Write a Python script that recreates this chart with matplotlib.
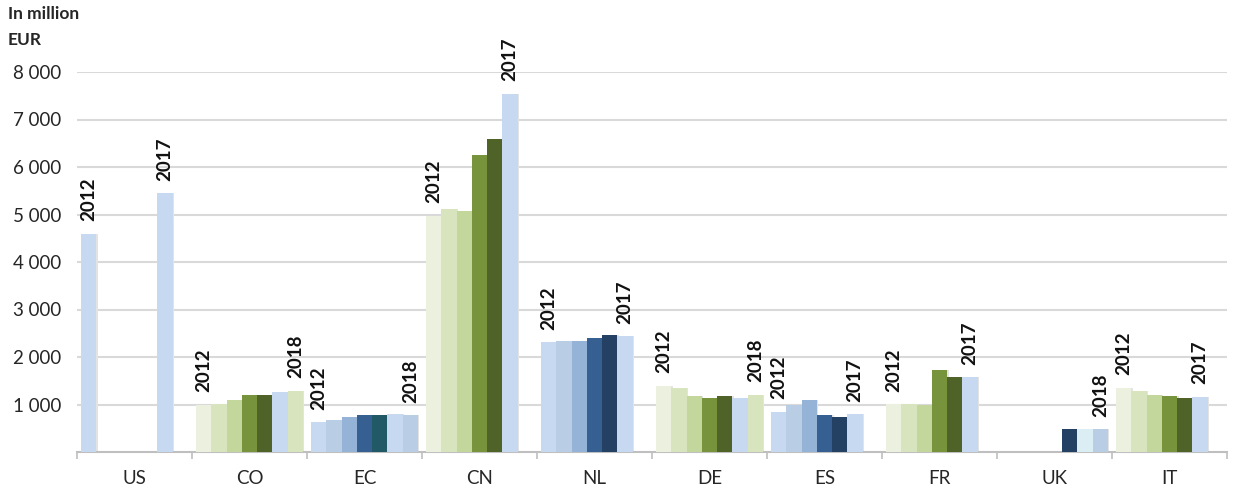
import numpy as np
import matplotlib.pyplot as plt

plt.rcParams['font.family'] = ['Lato', 'DejaVu Sans']

# data (million EUR), years 2012..2018, nan = no bar
years = [2012, 2013, 2014, 2015, 2016, 2017, 2018]
countries = ['US', 'CO', 'EC', 'CN', 'NL', 'DE', 'ES', 'FR', 'UK', 'IT']
nan = np.nan
us = [4600, nan, nan, nan, nan, 5450, nan]
co = [1000, 1010, 1100, 1210, 1210, 1260, 1290]
ec = [630, 670, 740, 780, 780, 810, 770]
cn = [4970, 5120, 5070, 6250, 6600, 7540, nan]
nl = [2310, 2340, 2340, 2410, 2460, 2440, nan]
de = [1390, 1350, 1170, 1140, 1170, 1130, 1210]
es = [850, 1000, 1100, 770, 740, 800, nan]
fr = [1010, 1010, 1000, 1730, 1570, 1570, nan]
uk = [nan, nan, nan, nan, 480, 480, 480]
it = [1350, 1280, 1210, 1180, 1130, 1160, nan]
values = [us, co, ec, cn, nl, de, es, fr, uk, it]

# years written above bars
year_labels = [[2012, 2017], [2012, 2018], [2012, 2018], [2012, 2017], [2012, 2017],
               [2012, 2018], [2012, 2017], [2012, 2017], [2018], [2012, 2017]]

# colours
g = ['#ebf1de', '#d7e4bd', '#c3d69b', '#77933c', '#4f6228', '#c6d9f1', '#d7e4bd']
b = ['#c6d9f1', '#b9cde5', '#95b3d7', '#366092', '#244062', '#c6d9f1', '#b9cde5']
colors = {
    'US': ['#c6d9f1'] * 7,
    'CO': g,
    'EC': ['#c6d9f1', '#b9cde5', '#95b3d7', '#366092', '#215967', '#c6d9f1', '#b9cde5'],
    'CN': g,
    'NL': b,
    'DE': g,
    'ES': b,
    'FR': g,
    'UK': ['#c6d9f1', '#b9cde5', '#95b3d7', '#366092', '#244062', '#dbeef4', '#b9cde5'],
    'IT': g,
}

fig = plt.figure(figsize=(12.36, 4.93), dpi=100)
ax = fig.add_axes([77 / 1236, 1 - 452 / 493, 1150 / 1236, 380 / 493])

n = len(years)
w = 0.93 / n
for i, c in enumerate(countries):
    for j in range(n):
        v = values[i][j]
        if np.isnan(v):
            continue
        x = i + 0.5 - 0.465 + (j + 0.5) * w
        # soft shadow like the original
        ax.bar(x + 0.012, v, width=w, color='#e3e3e3', zorder=2)
        ax.bar(x, v, width=w, color=colors[c][j], zorder=3)
        if years[j] in year_labels[i]:
            ax.annotate(str(years[j]), (x, v), xytext=(0, 9), textcoords='offset points',
                        rotation=90, ha='center', va='bottom', fontsize=13.5,
                        fontweight='bold', color='#111111')

ax.set_xlim(0, len(countries))
ax.set_ylim(0, 8000)
ax.set_yticks(range(1000, 9000, 1000))
ax.set_yticklabels([f'{v // 1000} 000' for v in range(1000, 9000, 1000)])
ax.grid(axis='y', color='#d9d9d9', linewidth=1.5, zorder=0)
ax.tick_params(axis='y', length=0, pad=11, labelsize=13.5, labelcolor='#262626')

ax.set_xticks(np.arange(len(countries)) + 0.5)
ax.set_xticklabels(countries)
ax.set_xticks(np.arange(len(countries) + 1), minor=True)
ax.tick_params(axis='x', which='major', length=0, pad=13, labelsize=13.5, labelcolor='#262626')
ax.tick_params(axis='x', which='minor', length=5, color='#bfbfbf', width=1.2)

for s in ['top', 'right', 'left']:
    ax.spines[s].set_visible(False)
ax.spines['bottom'].set_color('#bfbfbf')
ax.spines['bottom'].set_linewidth(1.5)

fig.text(8 / 1236, 1 - 14 / 493, 'In million', fontsize=12.5, fontweight='bold',
         color='#262626', va='center')
fig.text(8 / 1236, 1 - 40 / 493, 'EUR', fontsize=12.5, fontweight='bold',
         color='#262626', va='center')

fig.savefig('out.png', dpi=100)
